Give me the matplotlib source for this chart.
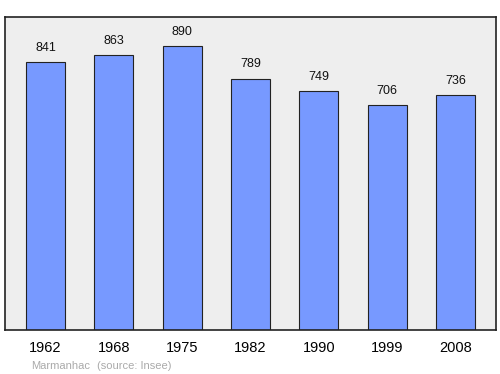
import matplotlib
matplotlib.use('Agg')
import matplotlib.pyplot as plt

years = ['1962', '1968', '1975', '1982', '1990', '1999', '2008']
population = [841, 863, 890, 789, 749, 706, 736]
commune = 'Marmanhac'
source = '(source: Insee)'

plt.rcParams['font.family'] = ['Liberation Sans', 'DejaVu Sans']

fig = plt.figure(figsize=(5.0, 3.74), dpi=100)
ax = fig.add_axes([0.01, 1 - 330 / 374, 0.982, 313 / 374])
ax.set_facecolor('#eeeeee')

x = range(len(years))
ax.bar(x, population, width=0.57, color='#7799ff', edgecolor='#222222', linewidth=0.8, zorder=2)

# value labels above bars
for i, v in zip(x, population):
    ax.annotate(str(v), (i, v), xytext=(0, 6), textcoords='offset points',
                ha='center', va='bottom', fontsize=9, color='#111111')

ax.set_xlim(-0.593, len(years) - 1 + 0.593)
ax.set_ylim(0, 982)
ax.set_yticks([])
ax.set_xticks(list(x))
ax.set_xticklabels(years, fontsize=10.5)
ax.tick_params(axis='x', length=0, pad=8)
for s in ax.spines.values():
    s.set_linewidth(1.2)
    s.set_color('#222222')

fig.text(31 / 500, 1 - 366 / 374, commune, fontsize=8, color='#aaaaaa', va='center')
fig.text(97 / 500, 1 - 366 / 374, source, fontsize=8, color='#aaaaaa', va='center')

fig.savefig('out.png', dpi=100)
